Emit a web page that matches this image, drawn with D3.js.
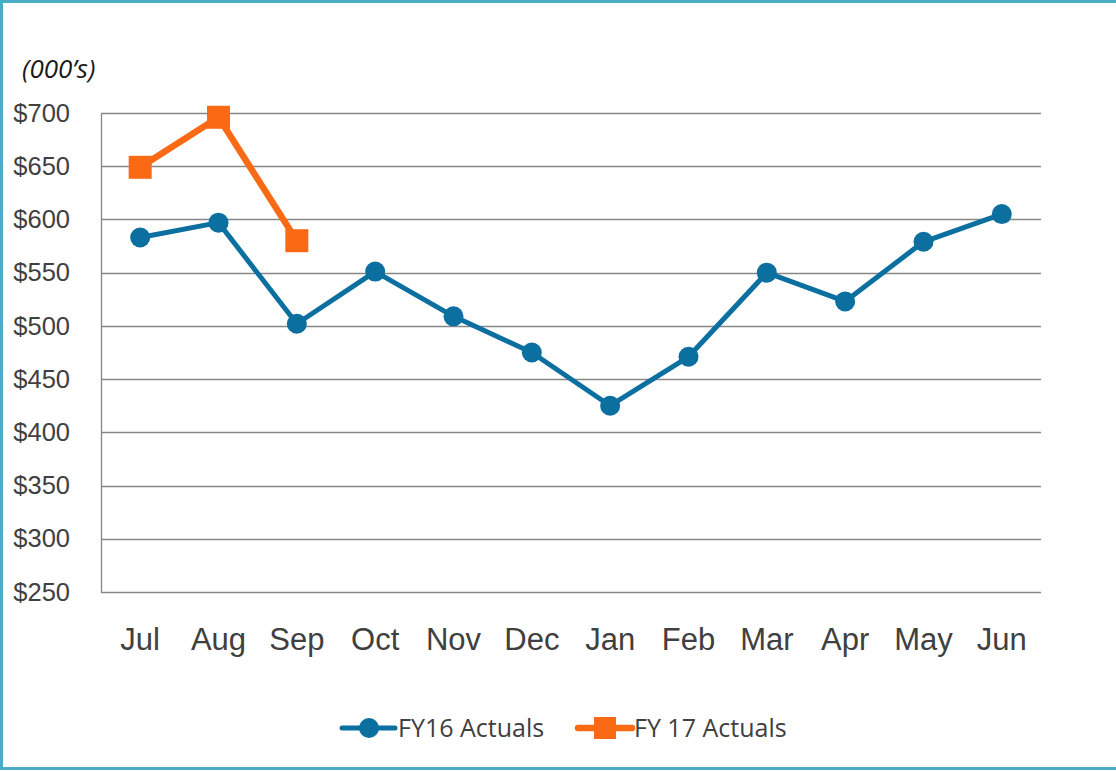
<!DOCTYPE html>
<html>
<head>
<meta charset="utf-8">
<script src="https://cdn.jsdelivr.net/npm/d3@7"></script>
<style>
  body { margin: 0; background: #fff; }
  svg { display: block; font-family: "Open Sans", "Noto Sans", sans-serif; }
</style>
</head>
<body>
<div id="chart"></div>
<script>
// data
var months = ["Jul", "Aug", "Sep", "Oct", "Nov", "Dec", "Jan", "Feb", "Mar", "Apr", "May", "Jun"];
var fy16 = [583, 597, 502, 551, 509, 475, 425, 471, 550, 523, 579, 605];
var fy17 = [649, 696, 580];
var yTicks = [250, 300, 350, 400, 450, 500, 550, 600, 650, 700];

var W = 1116, H = 771;
var margin = {top: 113, right: 75, bottom: 179, left: 101},
    width = W - margin.left - margin.right,
    height = H - margin.top - margin.bottom;

var blue = "#0b6fa0", orange = "#fa6a15";

var svg = d3.select("#chart").append("svg")
    .attr("width", W)
    .attr("height", H);

// outer frame (teal, no right side)
svg.append("path")
    .attr("d", "M1116,1.5 H1.5 V768.5 H1116")
    .attr("fill", "none")
    .attr("stroke", "#4bacc6")
    .attr("stroke-width", 3);

var g = svg.append("g").attr("transform", "translate(" + margin.left + "," + margin.top + ")");

var x = d3.scaleBand().domain(months).range([0, width]);
var y = d3.scaleLinear().domain([250, 700]).range([height, 0]);

// gridlines
g.selectAll(".grid")
    .data(yTicks)
    .enter().append("line")
    .attr("class", "grid")
    .attr("x1", 0)
    .attr("x2", width)
    .attr("y1", (d) => Math.round(y(d)) + 0.5)
    .attr("y2", (d) => Math.round(y(d)) + 0.5)
    .attr("stroke", "#868686")
    .attr("stroke-width", 1.3);

// y axis
var yAxis = g.append("g")
    .call(d3.axisLeft(y).tickValues(yTicks).tickFormat((d) => "$" + d).tickSize(0).tickPadding(31));
yAxis.select(".domain").attr("stroke", "#868686").attr("stroke-width", 1.3);
yAxis.selectAll("text")
    .attr("fill", "#404040")
    .style("font-size", "25.5px");

// x axis labels
var xAxis = g.append("g")
    .attr("transform", "translate(0," + height + ")")
    .call(d3.axisBottom(x).tickSize(0).tickPadding(36));
xAxis.select(".domain").remove();
xAxis.selectAll("text")
    .attr("fill", "#404040")
    .style("font-size", "31px");

// unit label
svg.append("text")
    .attr("x", 22)
    .attr("y", 78)
    .attr("fill", "#1a1a1a")
    .style("font-size", "26px")
    .style("font-style", "italic")
    .text("(000\u2019s)");

var cx = (d, i) => x(months[i]) + x.bandwidth() / 2;

var line = d3.line()
    .x((d, i) => cx(d, i))
    .y((d) => y(d));

// FY16
g.append("path")
    .datum(fy16)
    .attr("fill", "none")
    .attr("stroke", blue)
    .attr("stroke-width", 5)
    .attr("stroke-linejoin", "round")
    .attr("d", line);

g.selectAll(".dot16")
    .data(fy16)
    .enter().append("circle")
    .attr("class", "dot16")
    .attr("cx", cx)
    .attr("cy", (d) => y(d))
    .attr("r", 10)
    .attr("fill", blue);

// FY17
g.append("path")
    .datum(fy17)
    .attr("fill", "none")
    .attr("stroke", orange)
    .attr("stroke-width", 6.5)
    .attr("stroke-linejoin", "round")
    .attr("d", line);

g.selectAll(".sq17")
    .data(fy17)
    .enter().append("rect")
    .attr("class", "sq17")
    .attr("x", (d, i) => cx(d, i) - 11.5)
    .attr("y", (d) => y(d) - 11.5)
    .attr("width", 23)
    .attr("height", 23)
    .attr("fill", orange);

// legend
var legend = svg.append("g").attr("transform", "translate(0,728)");

legend.append("line")
    .attr("x1", 342).attr("x2", 395)
    .attr("stroke", blue).attr("stroke-width", 5).attr("stroke-linecap", "round");
legend.append("circle")
    .attr("cx", 369).attr("r", 10).attr("fill", blue);
legend.append("text")
    .attr("x", 398).attr("y", 9)
    .attr("fill", "#404040")
    .style("font-size", "25px")
    .text("FY16 Actuals");

legend.append("line")
    .attr("x1", 578).attr("x2", 632)
    .attr("stroke", orange).attr("stroke-width", 6.5).attr("stroke-linecap", "round");
legend.append("rect")
    .attr("x", 594).attr("y", -11).attr("width", 22).attr("height", 22).attr("fill", orange);
legend.append("text")
    .attr("x", 634).attr("y", 9)
    .attr("fill", "#404040")
    .style("font-size", "25px")
    .text("FY 17 Actuals");
</script>
</body>
</html>
